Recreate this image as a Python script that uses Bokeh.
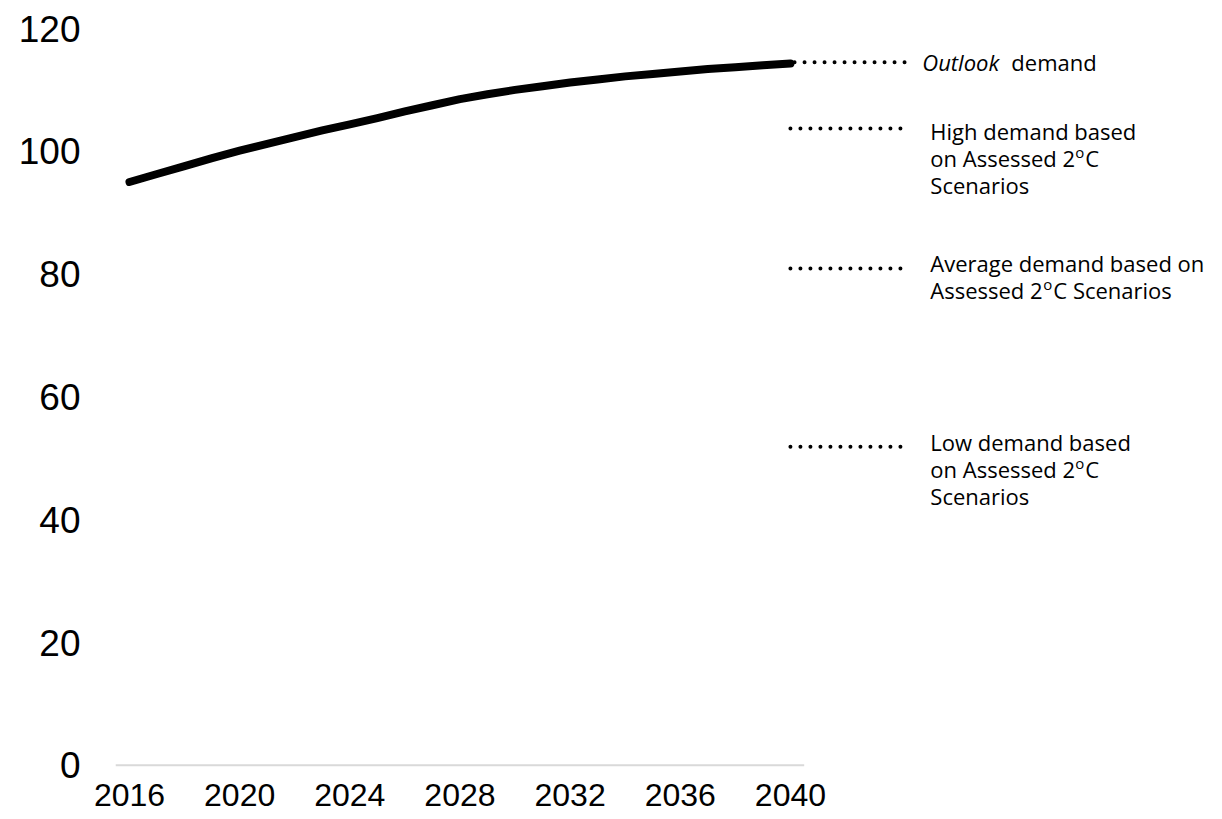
from bokeh.plotting import figure
from bokeh.models import FixedTicker, ColumnDataSource, Range1d
from bokeh.core.properties import value
from bokeh.embed import file_html
from bokeh.resources import INLINE

# Outlook demand path, one value per year
years = list(range(2016, 2041))
outlook_demand = [95.0, 96.3, 97.6, 98.9, 100.1, 101.2, 102.3, 103.4, 104.4, 105.4,
                  106.5, 107.5, 108.5, 109.3, 110.0, 110.6, 111.2, 111.7, 112.2, 112.6,
                  113.0, 113.4, 113.7, 114.0, 114.3]

x_ticks = [2016, 2020, 2024, 2028, 2032, 2036, 2040]
y_ticks = [0, 20, 40, 60, 80, 100, 120]

# Key entries on the right: level of each dotted marker
key_levels = [114.5, 103.7, 80.9, 51.9]

# Key text, split into pieces: (entry, line, text, x offset px, style)
# style: "n" normal, "i" italic, "s" superscript
key_pieces = [
    (0, 0, "Outlook", 0, "i"),
    (0, 0, "demand", 89, "n"),
    (1, 0, "High demand based", 0, "n"),
    (1, 1, "on Assessed 2", 0, "n"),
    (1, 1, "o", 145, "s"),
    (1, 1, "C", 155, "n"),
    (1, 2, "Scenarios", 0, "n"),
    (2, 0, "Average demand based on", 0, "n"),
    (2, 1, "Assessed 2", 0, "n"),
    (2, 1, "o", 113, "s"),
    (2, 1, "C Scenarios", 123, "n"),
    (3, 0, "Low demand based", 0, "n"),
    (3, 1, "on Assessed 2", 0, "n"),
    (3, 1, "o", 145, "s"),
    (3, 1, "C", 155, "n"),
    (3, 2, "Scenarios", 0, "n"),
]
key_first_offset = [0, 2, -6, -5]   # px below the marker for the first line
LINE_STEP = 27
SUP_RAISE = 6
KEY_X0 = [2040.15, 2040.0, 2040.0, 2040.0]
KEY_X1 = 2044.18
KEY_TEXT_X = [2044.79, 2045.08, 2045.08, 2045.08]

p = figure(width=1222, height=819, output_backend="svg", toolbar_location=None,
           x_range=Range1d(2015.1285, 2055.69), y_range=Range1d(-1.0, 124.56),
           min_border_left=105, min_border_right=0, min_border_top=0,
           min_border_bottom=48)
p.outline_line_color = None
p.background_fill_color = "white"
p.border_fill_color = "white"
p.xgrid.visible = False
p.ygrid.visible = False

# axes: labels only
for ax in (p.xaxis[0], p.yaxis[0]):
    ax.axis_line_color = None
    ax.major_tick_line_color = None
    ax.minor_tick_line_color = None
    ax.major_tick_out = 0
    ax.major_tick_in = 0
    ax.minor_tick_out = 0
    ax.major_label_text_color = "black"

p.yaxis.ticker = FixedTicker(ticks=y_ticks)
p.yaxis.major_label_text_font = "Liberation Sans"
p.yaxis.major_label_text_font_size = "37px"
p.yaxis.major_label_standoff = 25

p.xaxis.ticker = FixedTicker(ticks=x_ticks)
p.xaxis.major_label_text_font = "Liberation Sans"
p.xaxis.major_label_text_font_size = "32px"
p.xaxis.major_label_standoff = 12

# category baseline of the time axis (half a category beyond each end)
p.segment(x0=[years[0] - 0.5], y0=[0], x1=[years[-1] + 0.5], y1=[0],
          line_color="#d9d9d9", line_width=2)

# main series
p.line(years, outlook_demand, line_color="black", line_width=8,
       line_cap="round", line_join="round")

# dotted key markers
p.segment(x0=KEY_X0, y0=key_levels,
          x1=[KEY_X1] * len(key_levels), y1=key_levels,
          line_color="black", line_width=4, line_dash="0 10", line_cap="round")

# key text
groups = {"n": dict(x=[], y=[], text=[], xo=[], yo=[]),
          "i": dict(x=[], y=[], text=[], xo=[], yo=[]),
          "s": dict(x=[], y=[], text=[], xo=[], yo=[])}
for entry, line, t, dx, style in key_pieces:
    g = groups[style]
    g["x"].append(KEY_TEXT_X[entry])
    g["y"].append(key_levels[entry])
    g["text"].append(t)
    g["xo"].append(dx)
    yo = key_first_offset[entry] + line * LINE_STEP
    if style == "s":
        yo -= SUP_RAISE
    g["yo"].append(yo)

common = dict(x="x", y="y", text="text", x_offset="xo", y_offset="yo",
              text_font=value("Open Sans"), text_color="black",
              text_baseline="middle", text_align="left")
p.text(source=ColumnDataSource(groups["n"]), text_font_size="22px", **common)
p.text(source=ColumnDataSource(groups["i"]), text_font_size="22px",
       text_font_style="italic", **common)
p.text(source=ColumnDataSource(groups["s"]), text_font_size="15px", **common)

open("out.html", "w").write(file_html(p, INLINE))
